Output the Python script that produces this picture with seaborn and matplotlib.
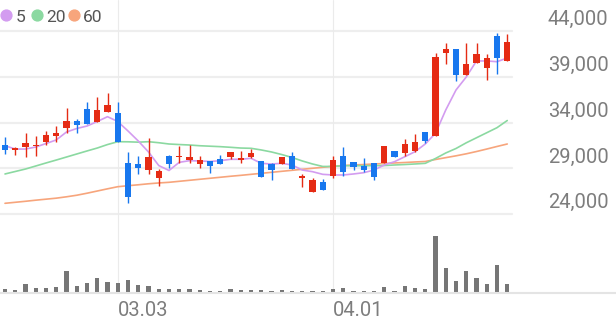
import numpy as np
import pandas as pd
import matplotlib
matplotlib.use("Agg")
import matplotlib.pyplot as plt
import matplotlib.transforms as mtransforms
from matplotlib.lines import Line2D
import seaborn as sns

# ---------------- data ----------------
dates_labels = ["03.03", "04.01"]
label_index = [11, 32]

opens = [31550, 31000, 31300, 31400, 31900, 32550, 33400, 34200, 35450, 34050,
         35150, 35000, 29650, 29450, 28850, 27950, 30350, 30200, 29900, 29500,
         29800, 30000, 30300, 29900, 30300, 29800, 29450, 29450, 30350, 28000,
         26450, 27500, 28150, 30400, 29700, 29250, 29550, 29550, 30950, 30700,
         30900, 33000, 32500, 41650, 42050, 39200, 40500, 39950, 43400, 40750]
highs = [32450, 31350, 32900, 32550, 33100, 33650, 35550, 34450, 36300, 36750,
         37200, 36300, 30750, 30350, 32300, 28950, 30500, 31450, 31550, 30350,
         29800, 30450, 30850, 30900, 31150, 29800, 29650, 30300, 30800, 28450,
         28000, 27800, 30350, 31350, 29700, 30100, 29600, 31400, 30950, 32250,
         32800, 33000, 41650, 42650, 42050, 42650, 42700, 41500, 43750, 43700]
lows = [30600, 30450, 30300, 30400, 31550, 31900, 32900, 32900, 33850, 34050,
        35150, 31900, 25200, 28400, 28400, 27100, 29100, 29550, 29550, 29100,
        28500, 29450, 30050, 29550, 30100, 28100, 27700, 29450, 28900, 27000,
        26450, 26600, 28000, 28200, 28800, 28600, 27750, 29550, 30250, 30400,
        30850, 31800, 32500, 40450, 38550, 39200, 40500, 38650, 39300, 40750]
closes = [31050, 31200, 31800, 31550, 32650, 32900, 34200, 33750, 33850, 35400,
          35900, 31900, 25900, 29100, 30200, 28750, 29500, 30400, 30300, 29900,
          29250, 29450, 30850, 30100, 30700, 28100, 28850, 30300, 28950, 28200,
          27750, 26650, 29900, 28600, 29200, 28800, 28050, 31400, 30300, 31650,
          31900, 32050, 41200, 42050, 39200, 40350, 41450, 41000, 41050, 42850]

ma5 = [31480, 31120, 31120, 31340, 31720, 32110, 32980, 33360, 33630, 34120,
       34650, 34120, 33090, 32000, 30800, 29320, 28780, 29670, 29850, 29820,
       29760, 29850, 30000, 30000, 30110, 29560, 29490, 29560, 29380, 28830,
       28650, 28360, 28290, 28290, 28400, 28540, 28830, 29380, 29740, 30280,
       30830, 31670, 32840, 35380, 37560, 38980, 40730, 40730, 40650, 41050]
ma20 = [28400, 28670, 28940, 29270, 29600, 29920, 30250, 30580, 30910, 31230,
        31610, 31920, 31910, 31870, 31920, 31810, 31670, 31610, 31560, 31480,
        31430, 31380, 31310, 31230, 31200, 31020, 30800, 30520, 30200, 29820,
        29490, 29220, 29220, 29300, 29300, 29300, 29300, 29320, 29380, 29430,
        29490, 29560, 30090, 30690, 31180, 31800, 32350, 32900, 33450, 34230]
ma60 = [25200, 25310, 25420, 25540, 25650, 25760, 25910, 26080, 26300, 26540,
        26780, 27010, 27120, 27220, 27330, 27420, 27490, 27600, 27710, 27820,
        27930, 28040, 28150, 28250, 28360, 28470, 28580, 28690, 28800, 28910,
        29020, 29130, 29240, 29320, 29380, 29430, 29490, 29540, 29600, 29650,
        29710, 29760, 29980, 30180, 30380, 30600, 30850, 31120, 31400, 31670]

volumes = [43, 33, 93, 50, 50, 67, 227, 73, 107, 150,
           117, 100, 133, 83, 77, 43, 40, 40, 43, 33,
           27, 27, 40, 33, 33, 33, 27, 33, 27, 27,
           23, 27, 40, 50, 27, 23, 27, 60, 27, 73,
           50, 43, 577, 250, 127, 227, 150, 90, 283, 93]

y_ticks = [24000, 29000, 34000, 39000, 44000]
ma_labels = ["5", "20", "60"]

# ---------------- style ----------------
sns.set_theme(style="white")
plt.rcParams["font.family"] = ["Roboto", "DejaVu Sans"]

RED = "#e52b14"
BLUE = "#1877ee"
C5, C20, C60 = "#d39cf0", "#8bd9a1", "#f7a57c"
GRID = "#eeeeee"

W, H = 616, 321
fig = plt.figure(figsize=(W / 100, H / 100), dpi=100)

price_bottom_px = 214.3
vol_bottom_px = 293.3
right_px = 512

ax = fig.add_axes([0, 1 - price_bottom_px / H, right_px / W, price_bottom_px / H])
axv = fig.add_axes([0, 1 - vol_bottom_px / H, right_px / W,
                    (vol_bottom_px - price_bottom_px) / H])

px_per_unit = 109.1
ymin = 24000
ymax = ymin + price_bottom_px * px_per_unit
xlim = (-5 / 10.25, (right_px - 5) / 10.25)

df = pd.DataFrame({"idx": np.arange(len(opens)), "open": opens, "high": highs,
                   "low": lows, "close": closes, "ma5": ma5, "ma20": ma20,
                   "ma60": ma60, "vol": volumes})

# grid
for v in y_ticks:
    ax.axhline(v, color=GRID, lw=1.6, zorder=0, clip_on=False)
for i in label_index:
    ax.axvline(i, color="#ebebeb", lw=0.8, zorder=0)
    axv.axvline(i, color="#ebebeb", lw=0.8, zorder=0)

# moving averages
sns.lineplot(data=df, x="idx", y="ma60", ax=ax, color=C60, lw=1.2, zorder=2)
sns.lineplot(data=df, x="idx", y="ma20", ax=ax, color=C20, lw=1.2, zorder=2)
sns.lineplot(data=df, x="idx", y="ma5", ax=ax, color=C5, lw=1.2, zorder=2)

# candles
up = df["close"] >= df["open"]
colors = np.where(up, RED, BLUE)
ax.vlines(df["idx"], df["low"], df["high"], colors=colors, lw=1.0, zorder=3)
body_low = np.minimum(df["open"], df["close"])
body_h = np.maximum(np.abs(df["close"] - df["open"]), 150)
ax.bar(df["idx"], body_h, bottom=body_low, width=0.6, color=colors,
       linewidth=0, zorder=4)

ax.set_xlim(*xlim)
ax.set_ylim(ymin, ymax)
ax.axis("off")

# volume
axv.bar(df["idx"], df["vol"], width=0.42, color="#767676", linewidth=0, zorder=3)
axv.set_xlim(*xlim)
axv.set_ylim(0, (vol_bottom_px - price_bottom_px) * 10)
axv.axis("off")

# baseline of volume
fig.add_artist(Line2D([0, 1], [1 - vol_bottom_px / H] * 2, transform=fig.transFigure,
                      color="#e4e4e4", lw=1.5))

# y labels (right side)
ytrans = mtransforms.blended_transform_factory(fig.transFigure, ax.transData)
for v in y_ticks:
    ax.text(548 / W, v + 6 * px_per_unit, f"{v:,}", transform=ytrans, ha="left",
            va="baseline", fontsize=14.5, color="#7d7d7d", clip_on=False)

# x labels
xtrans = mtransforms.blended_transform_factory(axv.transData, fig.transFigure)
for i, lab in zip(label_index, dates_labels):
    axv.text(i, 1 - 316.5 / H, lab, transform=xtrans, ha="left", va="baseline",
             fontsize=14.5, color="#7d7d7d", clip_on=False)

# legend
leg_items = [(6, 16, C5, ma_labels[0]), (36.7, 46.5, C20, ma_labels[1]),
             (74, 83, C60, ma_labels[2])]
for cx, tx, col, lab in leg_items:
    fig.add_artist(Line2D([cx / W], [1 - 15 / H], transform=fig.transFigure,
                          marker="o", markersize=7.8, color=col, lw=0))
    fig.text(tx / W, 1 - 21.7 / H, lab, ha="left", va="baseline", fontsize=12.5,
             color="#555555")

fig.savefig("out.png", dpi=100, facecolor="white")
